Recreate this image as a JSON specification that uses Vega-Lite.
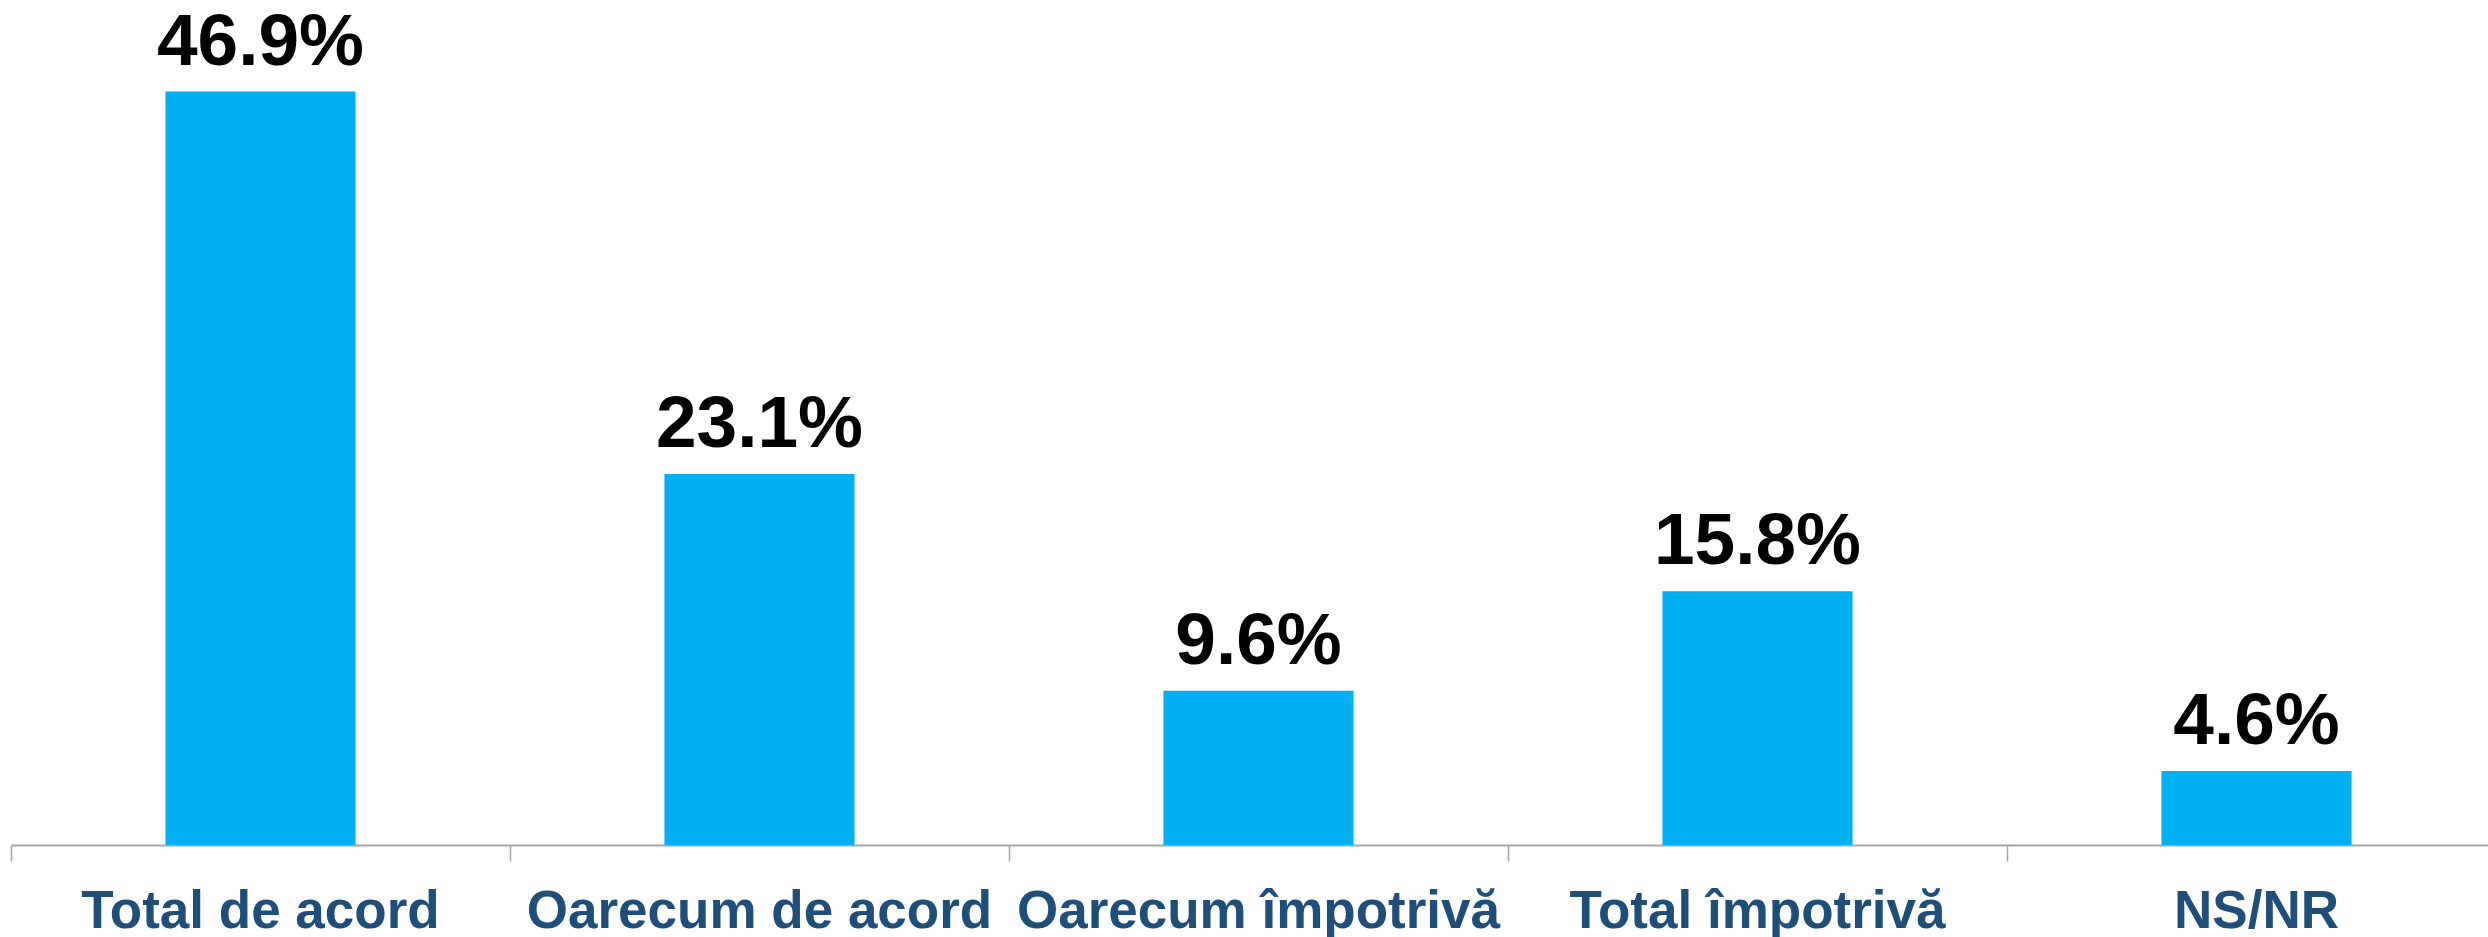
{
  "$schema": "https://vega.github.io/schema/vega-lite/v6.json",
  "width": 2495,
  "height": 845,
  "autosize": {"type": "none"},
  "padding": {"left": 11, "top": 0, "right": 0, "bottom": 92},
  "background": "white",
  "config": {"view": {"stroke": null}},
  "data": {"values": [
    {"cat": "Total de acord", "value": 46.9, "label": "46.9%"},
    {"cat": "Oarecum de acord", "value": 23.1, "label": "23.1%"},
    {"cat": "Oarecum împotrivă", "value": 9.6, "label": "9.6%"},
    {"cat": "Total împotrivă", "value": 15.8, "label": "15.8%"},
    {"cat": "NS/NR", "value": 4.6, "label": "4.6%"}
  ]},
  "encoding": {
    "x": {"field": "cat", "type": "nominal", "sort": null,
      "scale": {"paddingInner": 0, "paddingOuter": 0},
      "axis": {"title": null, "labelAngle": 0, "bandPosition": 0, "labelFont": "Liberation Sans", "labelFontSize": 53, "labelFontWeight": "bold", "labelColor": "#1F4E79", "labelBaseline": "alphabetic", "labelPadding": 66, "labelLimit": 0, "tickSize": 16, "tickColor": "#A6A6A6", "tickWidth": 1.5, "domainColor": "#A6A6A6", "domainWidth": 2, "labelBound": false, "labelOverlap": false, "labelFlush": false},
      "bandPosition": 0.5},
    "y": {"field": "value", "type": "quantitative", "scale": {"domain": [0, 52.6], "nice": false}, "axis": null}
  },
  "layer": [
    {"mark": {"type": "bar", "color": "#00B0F0", "width": {"band": 0.381}}},
    {"mark": {"type": "text", "font": "Liberation Sans", "fontSize": 73, "fontWeight": "bold", "color": "#000000", "baseline": "alphabetic", "dy": -27},
     "encoding": {"text": {"field": "label", "type": "nominal"}}}
  ]
}
